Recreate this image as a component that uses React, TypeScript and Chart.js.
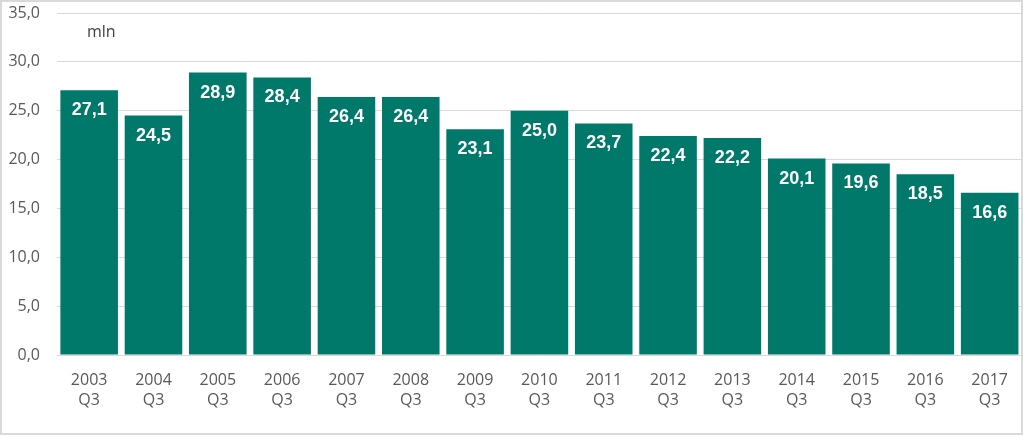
import React, { useEffect, useRef } from "react";
import { Chart, registerables } from "chart.js";

Chart.register(...registerables);

const categories: string[][] = [
  ["2003", "Q3"], ["2004", "Q3"], ["2005", "Q3"], ["2006", "Q3"], ["2007", "Q3"],
  ["2008", "Q3"], ["2009", "Q3"], ["2010", "Q3"], ["2011", "Q3"], ["2012", "Q3"],
  ["2013", "Q3"], ["2014", "Q3"], ["2015", "Q3"], ["2016", "Q3"], ["2017", "Q3"],
];
const values: number[] = [27.1, 24.5, 28.9, 28.4, 26.4, 26.4, 23.1, 25.0, 23.7, 22.4, 22.2, 20.1, 19.6, 18.5, 16.6];
const unitLabel = "mln";
const yMin = 0;
const yMax = 35;
const yStep = 5;

const fmt = (v: number) => v.toFixed(1).replace(".", ",");

const W = 1023;
const H = 435;

const framePlugin = {
  id: "frame",
  beforeDraw(chart: any) {
    const ctx = chart.ctx;
    ctx.save();
    ctx.fillStyle = "#ffffff";
    ctx.fillRect(0, 0, chart.width, chart.height);
    ctx.restore();
  },
  afterDraw(chart: any) {
    const ctx = chart.ctx;
    ctx.save();
    ctx.strokeStyle = "#d9d9d9";
    ctx.lineWidth = 2;
    ctx.strokeRect(1, 1, chart.width - 2, chart.height - 2);
    ctx.restore();
  },
};

const labelPlugin = {
  id: "barLabels",
  afterDatasetsDraw(chart: any) {
    const ctx = chart.ctx;
    const meta = chart.getDatasetMeta(0);
    ctx.save();
    ctx.fillStyle = "#ffffff";
    ctx.font = "bold 18px 'Liberation Sans', Arial, sans-serif";
    ctx.textAlign = "center";
    ctx.textBaseline = "middle";
    meta.data.forEach((el: any, i: number) => {
      ctx.fillText(fmt(values[i]), el.x, el.y + 20);
    });
    const area = chart.chartArea;
    ctx.fillStyle = "#404040";
    ctx.font = "16px 'Open Sans', sans-serif";
    ctx.textAlign = "left";
    ctx.fillText(unitLabel, area.left + 30, area.top + 19);
    ctx.restore();
  },
};

export default function App() {
  const ref = useRef<HTMLCanvasElement | null>(null);
  useEffect(() => {
    if (!ref.current) return;
    const chart = new Chart(ref.current, {
      type: "bar",
      data: {
        labels: categories,
        datasets: [
          {
            data: values,
            backgroundColor: "#00786A",
            borderWidth: 0,
            barPercentage: 0.895,
            categoryPercentage: 1,
          },
        ],
      },
      options: {
        responsive: false,
        animation: false,
        events: [],
        layout: { padding: { top: 0, right: 1, left: 0, bottom: 0 } },
        plugins: {
          legend: { display: false },
          tooltip: { enabled: false },
          title: { display: false },
        },
        scales: {
          x: {
            grid: { display: false, drawTicks: false },
            border: { display: false },
            ticks: {
              color: "#595959",
              font: { family: "'Open Sans', sans-serif", size: 16, lineHeight: 1.25 },
              padding: 15,
              maxRotation: 0,
              autoSkip: false,
            },
            afterFit: (s: any) => {
              s.height = 80;
            },
          },
          y: {
            min: yMin,
            max: yMax,
            grid: { color: "#d9d9d9", lineWidth: 1, drawTicks: false },
            border: { display: false },
            ticks: {
              stepSize: yStep,
              color: "#595959",
              font: { family: "'Open Sans', sans-serif", size: 16 },
              padding: 17,
              callback: (v: any) => fmt(Number(v)),
            },
            afterFit: (s: any) => {
              s.width = 57;
              s.paddingTop = 13;
              s.paddingBottom = 0;
            },
          },
        },
      },
      plugins: [framePlugin, labelPlugin],
    });
    return () => chart.destroy();
  }, []);
  return (
    <div style={{ position: "fixed", left: 0, top: 0, width: W, height: H }}>
      <canvas ref={ref} width={W} height={H} style={{ display: "block", width: W, height: H }} />
    </div>
  );
}
